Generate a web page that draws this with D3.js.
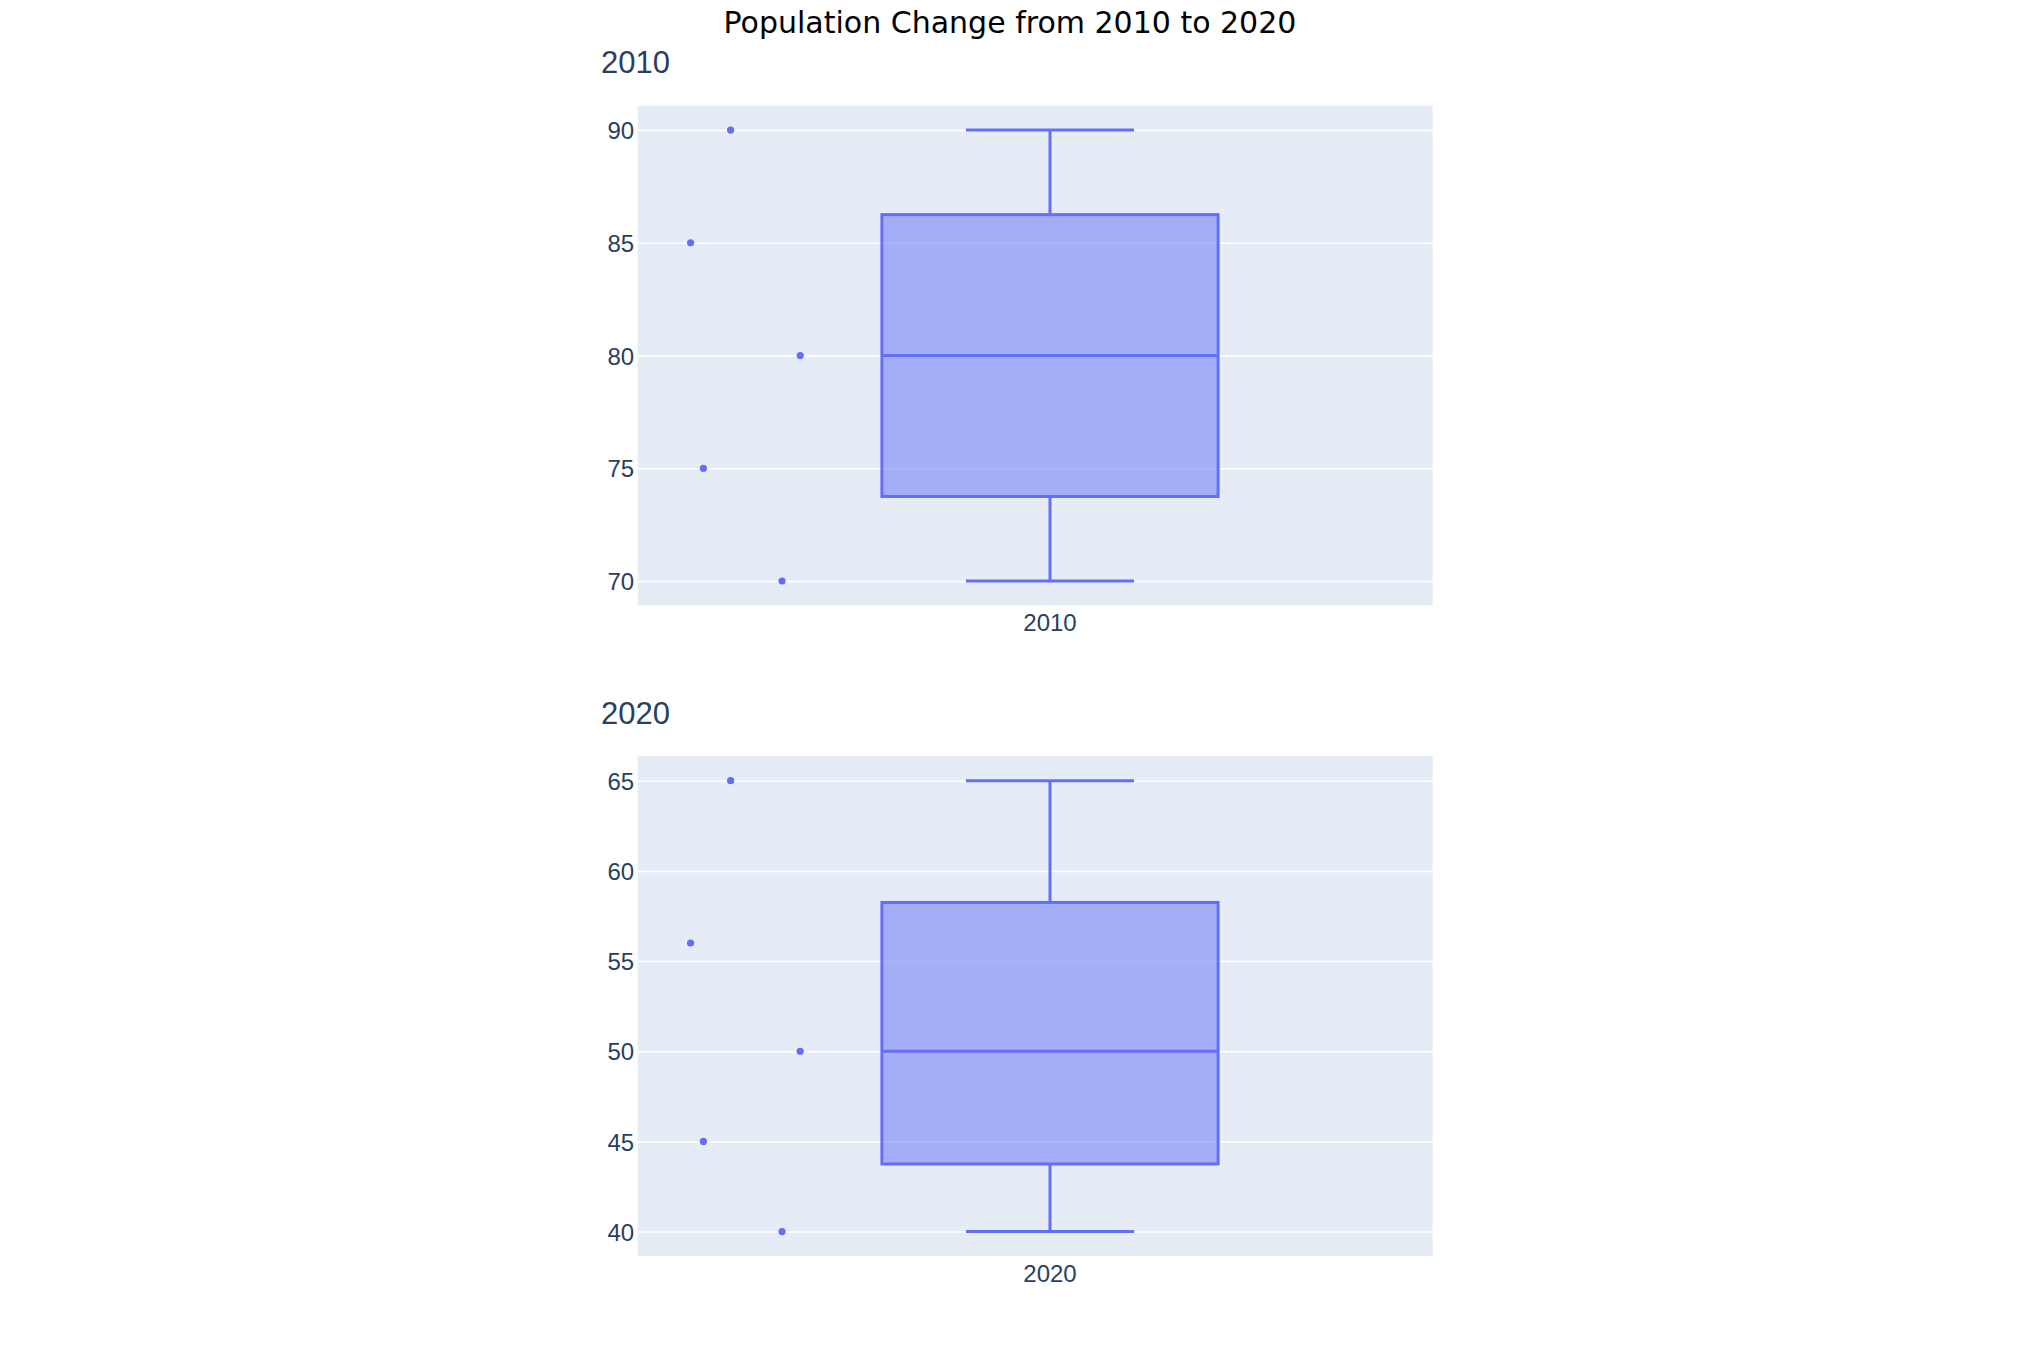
<!DOCTYPE html>
<html>
<head>
<meta charset="utf-8">
<script src="https://cdn.jsdelivr.net/npm/d3@7"></script>
<style>
  html, body { margin: 0; padding: 0; background: #fff; }
  svg { display: block; }
</style>
</head>
<body>
<div id="chart"></div>
<script>
// ---------- data ----------
const chartTitle = "Population Change from 2010 to 2020";
const years = ["2010", "2020"];
const pop2010 = [90, 85, 80, 75, 70];
const pop2020 = [65, 56, 50, 45, 40];
const ticks2010 = [70, 75, 80, 85, 90];
const ticks2020 = [40, 45, 50, 55, 60, 65];
// horizontal jitter of the sample points (fraction of box width, around the point column)
const jitter = [-0.050, -0.169, 0.157, -0.131, 0.103];

// ---------- layout ----------
const W = 2020, H = 1351;
const plotLeft = 637.7, plotRight = 1432.6;
const panels = [
  { year: years[0], values: pop2010, ticks: ticks2010, top: 105.6, bottom: 605.5 },
  { year: years[1], values: pop2020, ticks: ticks2020, top: 756.2, bottom: 1256.1 }
];
const ypad = 24.5;          // autorange padding in px
const boxCenterX = 1050;    // px position of category centre
const boxWidthPx = 336.2;   // px per box width unit
const pointPos = -0.9;      // point column offset (box widths)
const capHalf = 0.25;       // whisker cap half width (box widths)
const lw = 3;

const colLine = "#636efa";
const colFill = "rgba(99,110,250,0.5)";
const colBg = "#e5ecf6";
const colText = "#2a3f5f";
const tickFont = "'Liberation Sans', Arial, Helvetica, sans-serif";

// plotly-like 'linear' quantile
function quantile(sorted, p) {
  const n = sorted.length;
  let pos = n * p - 0.5;
  if (pos < 0) pos = 0;
  if (pos > n - 1) pos = n - 1;
  const lo = Math.floor(pos), hi = Math.ceil(pos);
  return sorted[lo] + (sorted[hi] - sorted[lo]) * (pos - lo);
}

const svg = d3.select("#chart").append("svg")
  .attr("width", W).attr("height", H)
  .attr("viewBox", `0 0 ${W} ${H}`);

svg.append("rect").attr("width", W).attr("height", H).attr("fill", "#fff");

svg.append("text")
  .attr("x", W / 2).attr("y", 33)
  .attr("text-anchor", "middle")
  .attr("font-family", "'DejaVu Sans', sans-serif")
  .attr("font-size", 30)
  .attr("fill", "#000")
  .text(chartTitle);

// x scale in box-width units (category at 0)
const x = d3.scaleLinear()
  .domain([(plotLeft - boxCenterX) / boxWidthPx, (plotRight - boxCenterX) / boxWidthPx])
  .range([plotLeft, plotRight]);

panels.forEach(pn => {
  const sorted = pn.values.slice().sort((a, b) => a - b);
  const mn = sorted[0], mx = sorted[sorted.length - 1];
  const q1 = quantile(sorted, 0.25), med = quantile(sorted, 0.5), q3 = quantile(sorted, 0.75);
  const iqr = q3 - q1;
  const lowW = d3.min(sorted.filter(v => v >= q1 - 1.5 * iqr));
  const highW = d3.max(sorted.filter(v => v <= q3 + 1.5 * iqr));

  const y = d3.scaleLinear().domain([mn, mx]).range([pn.bottom - ypad, pn.top + ypad]);

  const g = svg.append("g");

  // subplot title
  g.append("text")
    .attr("x", 601).attr("y", pn.top - 32.3)
    .attr("font-family", tickFont)
    .attr("font-size", 31)
    .attr("fill", colText)
    .text(pn.year);

  // background
  g.append("rect")
    .attr("x", plotLeft).attr("y", pn.top)
    .attr("width", plotRight - plotLeft).attr("height", pn.bottom - pn.top)
    .attr("fill", colBg);

  // y axis with gridlines
  const yAxis = d3.axisLeft(y).tickValues(pn.ticks).tickSize(-(plotRight - plotLeft)).tickPadding(4);
  const ya = g.append("g").attr("transform", `translate(${plotLeft},0)`).call(yAxis);
  ya.select(".domain").remove();
  ya.selectAll(".tick line").attr("stroke", "#fff").attr("stroke-width", 1.5);
  ya.selectAll(".tick text")
    .attr("font-family", tickFont).attr("font-size", 24).attr("fill", colText)
    .attr("x", -3.5).attr("dy", "0.36em");

  // x axis (category label)
  const xb = d3.scaleBand().domain([pn.year]).range([x(-0.5), x(0.5)]);
  const xAxis = d3.axisBottom(xb).tickSize(0).tickPadding(0);
  const xa = g.append("g").attr("transform", `translate(0,${pn.bottom})`).call(xAxis);
  xa.select(".domain").remove();
  xa.selectAll(".tick text")
    .attr("font-family", tickFont).attr("font-size", 24).attr("fill", colText)
    .attr("dy", 0).attr("y", 25.5);

  // whiskers
  g.append("line").attr("x1", x(0)).attr("x2", x(0)).attr("y1", y(q3)).attr("y2", y(highW))
    .attr("stroke", colLine).attr("stroke-width", lw);
  g.append("line").attr("x1", x(0)).attr("x2", x(0)).attr("y1", y(q1)).attr("y2", y(lowW))
    .attr("stroke", colLine).attr("stroke-width", lw);
  g.append("line").attr("x1", x(-capHalf)).attr("x2", x(capHalf)).attr("y1", y(highW)).attr("y2", y(highW))
    .attr("stroke", colLine).attr("stroke-width", lw);
  g.append("line").attr("x1", x(-capHalf)).attr("x2", x(capHalf)).attr("y1", y(lowW)).attr("y2", y(lowW))
    .attr("stroke", colLine).attr("stroke-width", lw);

  // box
  g.append("rect")
    .attr("x", x(-0.5)).attr("y", y(q3))
    .attr("width", x(0.5) - x(-0.5)).attr("height", y(q1) - y(q3))
    .attr("fill", colFill).attr("stroke", colLine).attr("stroke-width", lw);
  g.append("line").attr("x1", x(-0.5)).attr("x2", x(0.5)).attr("y1", y(med)).attr("y2", y(med))
    .attr("stroke", colLine).attr("stroke-width", lw);

  // points
  g.selectAll("circle.pt").data(pn.values).join("circle")
    .attr("class", "pt")
    .attr("cx", (d, i) => x(pointPos + jitter[i]))
    .attr("cy", d => y(d))
    .attr("r", 3.6)
    .attr("fill", colLine);
});
</script>
</body>
</html>
